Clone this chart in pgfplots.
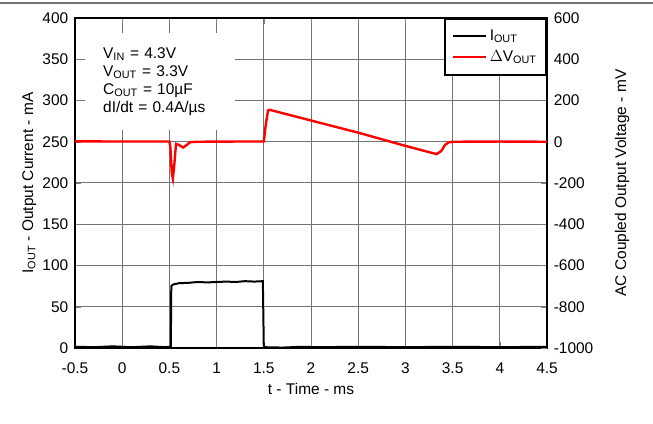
\documentclass[border=0pt]{standalone}
\usepackage{pgfplots}
\pgfplotsset{compat=1.18}
\usepackage{fontspec}
\setmainfont{Liberation Sans}
\begin{document}
\fontsize{11.6pt}{13.5pt}\selectfont
\begin{tikzpicture}
\useasboundingbox (0,0) rectangle (489.75pt,318pt);
\draw[black!55, line width=1.3pt] (0,315.9pt) -- (489.75pt,315.9pt);
\pgfplotsset{
  myaxis/.style={
    scale only axis, width=354pt, height=247.5pt,
    at={(56.25pt,57pt)}, anchor=south west,
    xmin=-0.5, xmax=4.5,
    xtick={-0.5,0,0.5,1,1.5,2,2.5,3,3.5,4,4.5},
    tick label style={font=\fontsize{11.6pt}{13pt}\selectfont},
    label style={font=\fontsize{11.6pt}{13pt}\selectfont},
  }
}
% left axis: labels only
\begin{axis}[myaxis,
  ymin=0, ymax=400, ytick={0,50,...,400},
  yticklabels={0,50,100,150,200,250,300,350,400},
  xticklabels={-0.5,0,0.5,1,1.5,2,2.5,3,3.5,4,4.5},
  axis line style={line width=1.5pt},
  xlabel={t - Time - ms},
  ylabel={I\textsubscript{OUT} - Output Current - mA},
  xlabel style={at={(axis description cs:0.5,-0.125)}, anchor=center},
  ylabel style={at={(axis description cs:-0.097,0.5)}, anchor=center, rotate=0},
  xticklabel style={yshift=-7pt},
  yticklabel style={xshift=-1pt},
]
\end{axis}
% grid-only axis
\begin{axis}[
    scale only axis, width=354pt, height=247.5pt,
    at={(56.25pt,57pt)}, anchor=south west,
    xmin=-0.5, xmax=4.5,
    xtick={-0.5,0,0.5,1,1.5,2,2.5,3,3.5,4,4.5},
    ymin=0, ymax=400, ytick={0,50,...,400},
    xticklabels={}, yticklabels={},
    axis line style={line width=1.5pt},
    grid=major, grid style={black!55, line width=0.75pt},
]
\end{axis}
% I_OUT series on the left scale
\begin{axis}[myaxis, hide axis, ymin=0, ymax=400]
\addplot[black, line width=1.5pt] coordinates {
(-0.5,1.5) (-0.3,1) (-0.1,2) (0.1,1) (0.3,2) (0.45,1) (0.515,1.5)
(0.52,75) (0.54,77) (0.6,78.5) (0.7,79) (0.8,80) (0.9,79.5) (1.0,80) (1.1,80.5) (1.2,80) (1.3,81) (1.4,80.5) (1.49,81)
(1.5,1) (1.7,0.5) (1.9,1.5) (2.1,1) (2.5,1.5) (3.0,1) (3.5,1.5) (4.0,1) (4.5,1.5)
};
\end{axis}
\begin{axis}[myaxis,
  hide x axis,
  axis y line*=right,
  axis line style={line width=1.5pt},
  ymin=-1000, ymax=600, ytick={-1000,-800,...,600},
  yticklabels={-1000,-800,-600,-400,-200,0,200,400,600},
  ylabel={AC Coupled Output Voltage - mV},
  ylabel style={at={(axis description cs:1.159,0.5)}, anchor=center, rotate=0},
  yticklabel style={xshift=1pt},
  legend style={at={(1,1)}, anchor=north east, draw=black, line width=1.5pt, fill=white,
    font=\fontsize{11.6pt}{13pt}\selectfont, inner xsep=5pt, inner ysep=6pt, row sep=2pt},
  legend cell align=left,
  legend image code/.code={\draw[#1, line width=1.5pt] (0pt,0pt) -- (25pt,0pt);},
]
\addlegendimage{black}
\addlegendentry{I\textsubscript{OUT}}
\addplot[red, line width=1.8pt] coordinates {
(-0.5,2) (0,1) (0.5,1) (0.51,-25) (0.525,-150) (0.537,-178) (0.552,-110) (0.57,-10)
(0.6,-15) (0.645,-28) (0.67,-20) (0.72,-2) (0.8,0) (1.2,1) (1.5,1)
(1.52,80) (1.545,152) (1.56,155) (2.0,103) (2.5,44) (3.0,-20) (3.33,-60)
(3.38,-45) (3.42,-15) (3.46,-3) (3.5,0) (4.0,1) (4.5,0)
};
\addlegendentry{$\Delta$V\textsubscript{OUT}}
\node[fill=white, anchor=north west, inner xsep=13.5pt, inner ysep=11pt, text width=85pt, align=left,
  font=\fontsize{11.6pt}{13.5pt}\selectfont]
  at (axis description cs:0.021,0.955)
  {V\textsubscript{IN} = 4.3V\\V\textsubscript{OUT} = 3.3V\\C\textsubscript{OUT} = 10\textmu F\\dI/dt = 0.4A/\textmu s};
\end{axis}
\end{tikzpicture}
\end{document}
